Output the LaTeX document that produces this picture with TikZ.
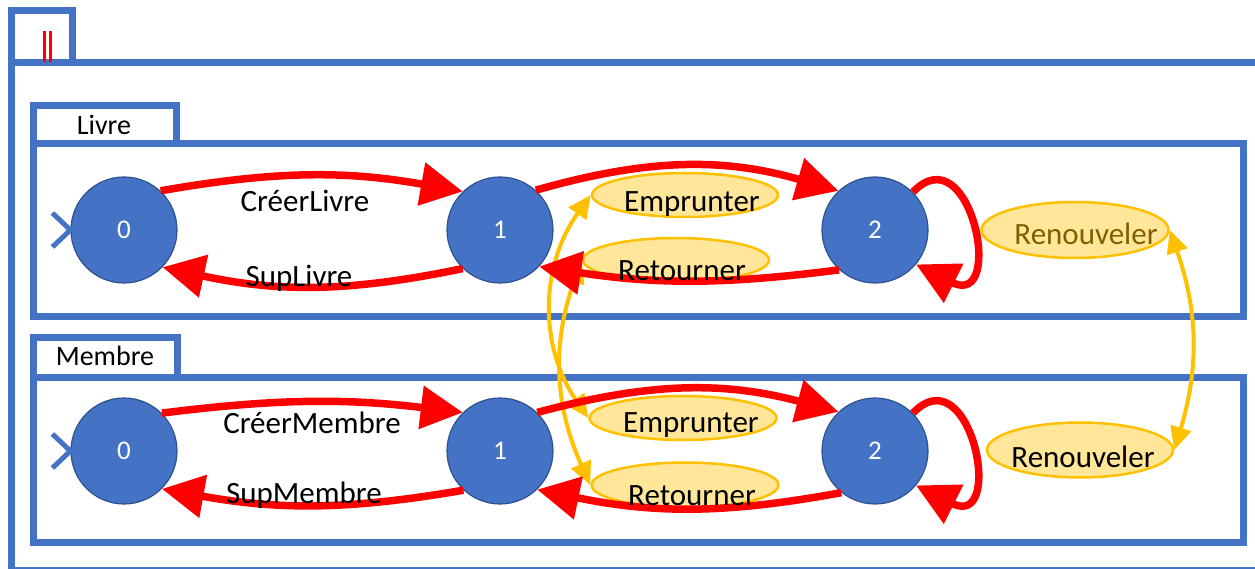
\documentclass[tikz,border=0pt]{standalone}
\usepackage{fontspec}
\setmainfont{Carlito}
\usetikzlibrary{arrows.meta,shapes.geometric}
\definecolor{frameblue}{HTML}{4472C4}
\definecolor{stateborder}{HTML}{2F528F}
\definecolor{evfill}{HTML}{FFE699}
\definecolor{evgold}{HTML}{FFC000}
\definecolor{evtext}{HTML}{7F6000}

\begin{document}
\begin{tikzpicture}[x=1pt,y=-1pt,
  frame/.style={draw=frameblue,line width=7pt},
  state/.style={circle,fill=frameblue,draw=stateborder,line width=1.2pt,
    minimum size=106pt,inner sep=0pt,text=white,font=\fontsize{27}{30}\selectfont},
  event/.style={ellipse,fill=evfill,draw=evgold,line width=2.5pt,inner sep=0pt},
  lbl/.style={anchor=base,font=\fontsize{31}{36}\selectfont,inner sep=0pt},
  tablbl/.style={anchor=base,font=\fontsize{28}{34}\selectfont,inner sep=0pt},
  trans/.style={draw=red,line width=7.5pt,-{Triangle[length=42pt,width=42pt]}},
  sync/.style={draw=evgold,line width=4pt,
    {Triangle[length=23pt,width=21pt]}-{Triangle[length=23pt,width=21pt]}},
  initmark/.style={draw=frameblue,line width=5pt},
  parbar/.style={draw=red,line width=2.5pt}
]
\useasboundingbox (0,0) rectangle (1255,569);
\clip (0,0) rectangle (1255,569);

% outer composition frame with its parallel-operator tab
\draw[frame] (11,11) rectangle (72,63);
\draw[frame] (11,63) rectangle (1275,570);
\draw[parbar] (44.5,31) -- (44.5,62) (50.5,31) -- (50.5,62);

% component frames
\draw[frame] (33,106) rectangle (176,144);
\draw[frame] (33,144) rectangle (1243,316);
\draw[frame] (33,337) rectangle (177,377);
\draw[frame] (33,377) rectangle (1243,542);

% shared events
\node[event,minimum width=186pt,minimum height=44pt] (LEmp) at (685,195) {};
\node[event,minimum width=186pt,minimum height=44pt] (LRet) at (676,260) {};
\node[event,minimum width=187pt,minimum height=56pt] (LRen) at (1075,230) {};
\node[event,minimum width=187pt,minimum height=44pt] (MEmp) at (683,418) {};
\node[event,minimum width=187pt,minimum height=45pt] (MRet) at (685,485) {};
\node[event,minimum width=186pt,minimum height=55pt] (MRen) at (1080,450) {};

% synchronisation links between the two components
\draw[sync] (LEmp.west) to[bend right=35] (MEmp.west);
\draw[sync] (LRet.west) to[bend right=22] (MRet.west);
\draw[sync] (LRen.east) to[bend left=18] (MRen.east);

% states
\node[state] (L0) at (124,230) {0};
\node[state] (L1) at (500,230) {1};
\node[state] (L2) at (875,230) {2};
\node[state] (M0) at (124,451) {0};
\node[state] (M1) at (500,451) {1};
\node[state] (M2) at (875,451) {2};

% initial-state markers
\draw[initmark] ([shift={(-18pt,17pt)}]L0.west) -- (L0.west) -- ([shift={(-18pt,-17pt)}]L0.west);
\draw[initmark] ([shift={(-18pt,17pt)}]M0.west) -- (M0.west) -- ([shift={(-18pt,-17pt)}]M0.west);

% transitions of Livre
\draw[trans] (L0.47) to[bend left=10] (L1.134);
\draw[trans] (L1.226) to[bend left=12] (L0.316);
\draw[trans] (L1.48) to[bend left=16] (L2.133);
\draw[trans] (L2.228) to[bend left=8] (L1.317);
\draw[trans] (L2.45) .. controls +(58,-60) and +(90,45) .. (L2.-40);

% transitions of Membre
\draw[trans] (M0.45) to[bend left=7] (M1.134);
\draw[trans] (M1.227) to[bend left=10] (M0.315);
\draw[trans] (M1.46) to[bend left=15] (M2.133);
\draw[trans] (M2.231) to[bend left=11] (M1.314);
\draw[trans] (M2.45) .. controls +(58,-60) and +(90,45) .. (M2.-40);

% labels
\node[tablbl] (tLiv) at (104,135) {Livre};
\node[tablbl] (tMem) at (105,365) {Membre};
\node[lbl] (tCL) at (305,212) {CréerLivre};
\node[lbl] (tSL) at (299,287) {SupLivre};
\node[lbl] (tCM) at (312,433) {CréerMembre};
\node[lbl] (tSM) at (304,503) {SupMembre};
\node[lbl] (tLE) at (692,212) {Emprunter};
\node[lbl] (tLR) at (682,280) {Retourner};
\node[lbl,text=evtext] (tLN) at (1086,245) {Renouveler};
\node[lbl] (tME) at (691,432) {Emprunter};
\node[lbl] (tMR) at (692,505) {Retourner};
\node[lbl] (tMN) at (1083,467) {Renouveler};
\end{tikzpicture}
\end{document}
